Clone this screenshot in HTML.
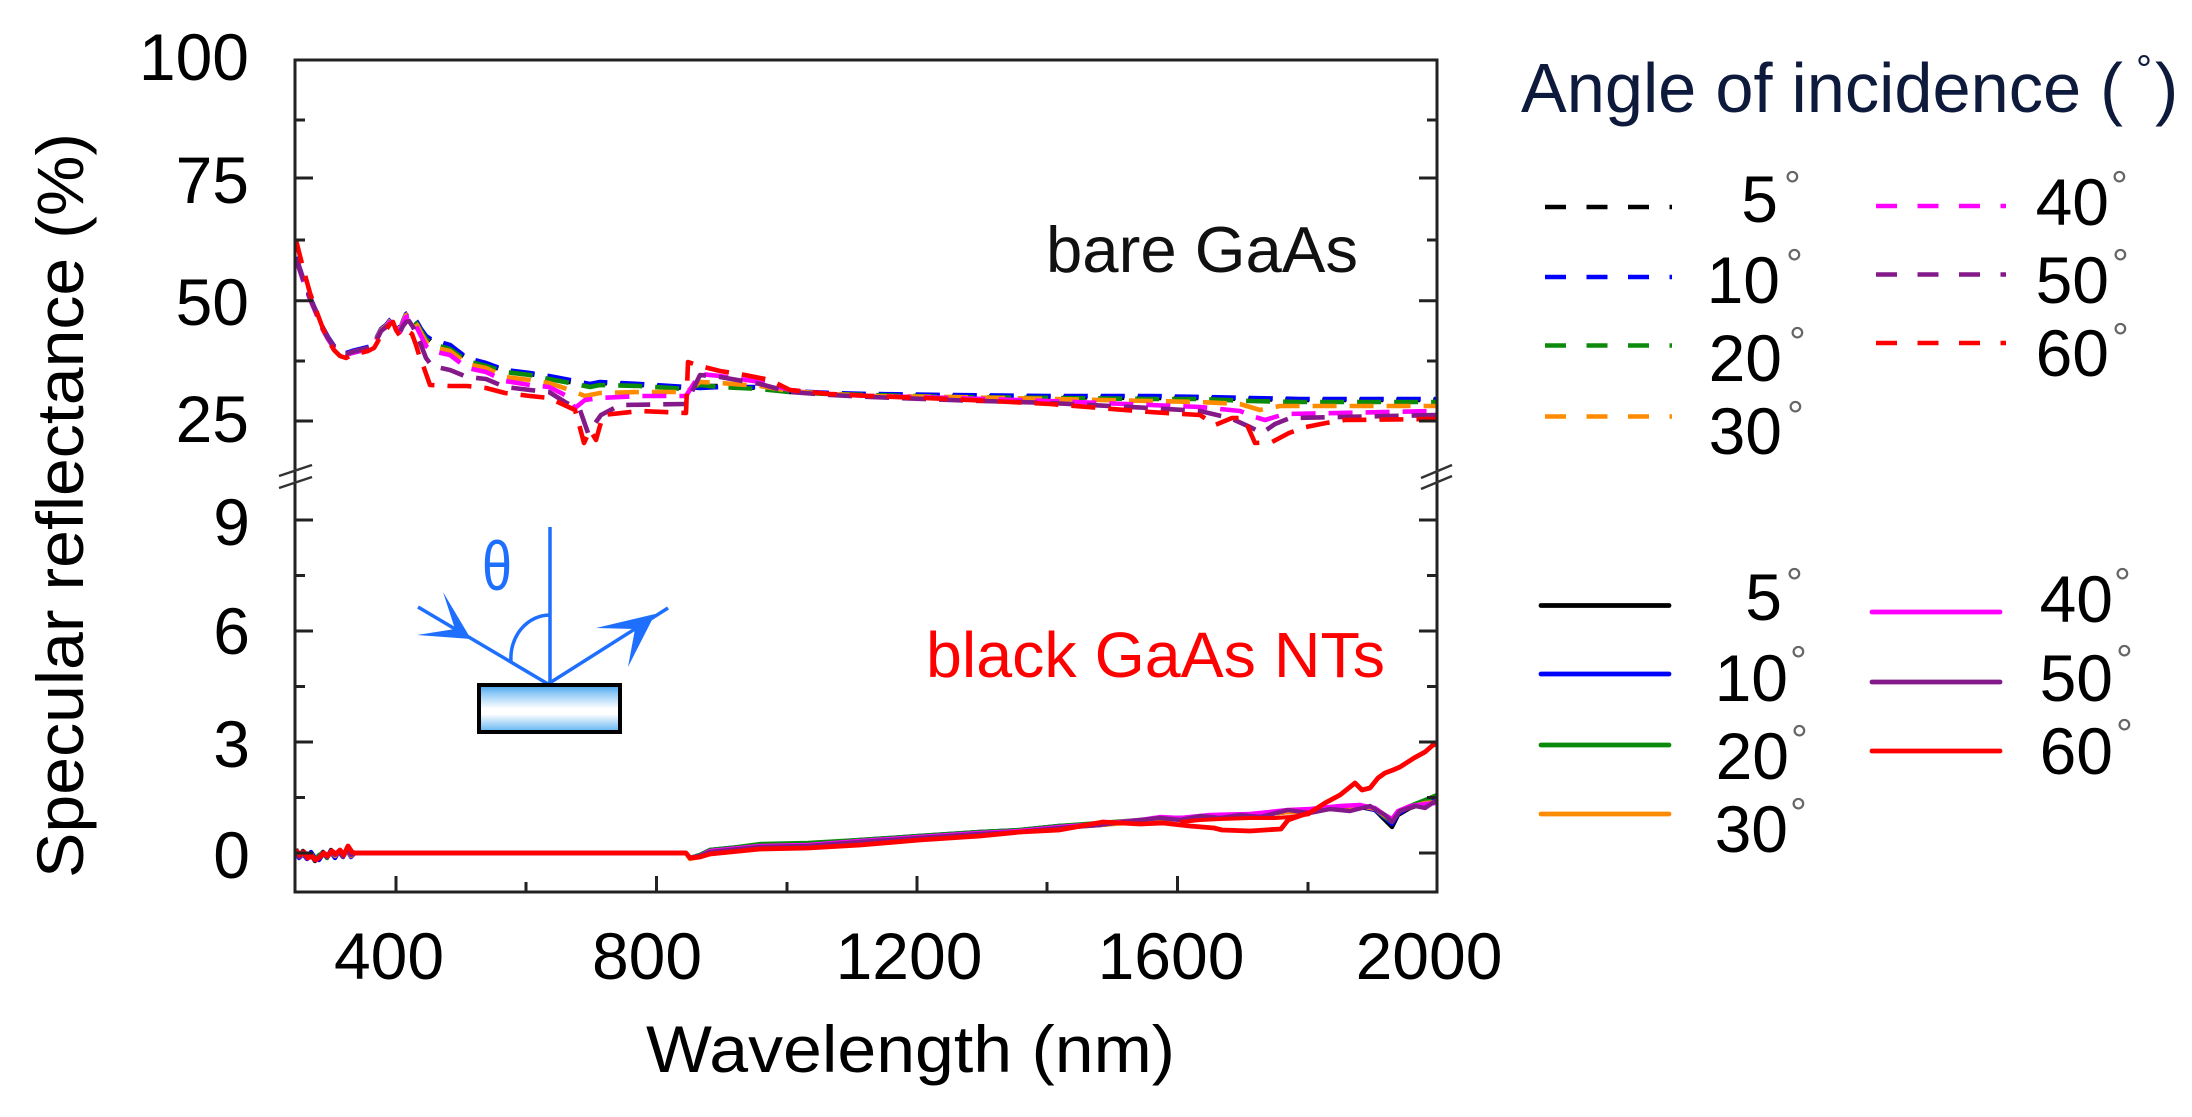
<!DOCTYPE html>
<html>
<head>
<meta charset="utf-8">
<style>
  html,body{margin:0;padding:0;background:#fff;}
  svg{display:block;}
  text{font-family:"Liberation Sans", Arial, sans-serif;}
</style>
</head>
<body>
<svg width="2192" height="1117" viewBox="0 0 2192 1117" xmlns="http://www.w3.org/2000/svg">
  <defs>
    <clipPath id="plot"><rect x="296" y="61" width="1140" height="830"/></clipPath>
    <linearGradient id="sub" x1="0" y1="0" x2="0" y2="1">
      <stop offset="0" stop-color="#3f9fec"/>
      <stop offset="0.18" stop-color="#8fcaf6"/>
      <stop offset="0.5" stop-color="#ffffff"/>
      <stop offset="0.62" stop-color="#ffffff"/>
      <stop offset="1" stop-color="#5cb2f0"/>
    </linearGradient>
  </defs>
  <rect width="2192" height="1117" fill="#fff"/>

  <!-- ===== data: upper panel (dashed) ===== -->
  <g clip-path="url(#plot)" fill="none" stroke-width="4.6" stroke-dasharray="24 13" stroke-linejoin="round">
    <polyline stroke="#000000" points="296,258 300,270 305,285 310,298 316,312 322,327 328,338 334,347 340,352 346,354 352,352 360,350 368,348 374,346 377,338 381,330 386,326 390,321 393,318 396,326 400,331 403,322 406,315 409,313 413,318 417,323 421,330 426,337 432,342 450,347 467,359 486,364 505,371 530,374 549,377 570,382 590,386 600,383 640,385 686,388 700,386 720,386 760,388 790,392 830,394 870,395 950,396 1050,397 1150,398 1200,398 1250,399 1300,400 1437,400"/>
    <polyline stroke="#0000ff" points="296,257 300,269 305,284 310,297 316,311 322,326 328,337 334,346 340,351 346,353 352,351 360,349 368,347 374,345 377,337 381,329 386,325 390,320 393,317 396,325 400,330 403,321 406,314 409,312 413,317 417,322 421,329 426,336 432,340 450,345 467,358 486,363 505,370 530,373 549,376 570,380 590,384 600,382 640,384 686,387 700,388 720,387 760,387 790,391 830,393 870,394 950,395 1050,396 1150,396 1200,397 1250,398 1300,399 1437,399"/>
    <polyline stroke="#0b8a0b" points="296,259 300,271 305,286 310,299 316,313 322,328 328,339 334,348 340,353 346,355 352,353 360,351 368,349 374,347 377,339 381,331 386,327 390,322 393,319 396,327 400,332 403,323 406,316 409,313 413,319 417,324 421,331 426,339 432,344 450,349 467,361 486,366 505,372 530,375 549,379 570,383 590,387 600,385 640,386 686,389 700,385 720,387 760,389 790,392 830,394 870,395 950,397 1050,398 1150,399 1200,399 1250,401 1300,402 1437,402"/>
    <polyline stroke="#ff8c00" points="296,258 300,270 305,285 310,298 316,312 322,327 328,338 334,347 340,352 346,354 352,352 360,350 368,348 374,346 377,338 381,330 386,326 390,321 393,318 396,326 400,331 403,322 406,315 409,314 413,319 417,325 421,333 426,342 432,347 450,351 467,364 486,368 505,377 530,380 549,383 570,390 585,396 600,393 640,392 686,392 700,382 720,383 760,386 790,391 830,394 870,396 950,397 1050,399 1150,401 1200,402 1240,404 1260,410 1280,406 1437,406"/>
    <polyline stroke="#ff00ff" points="296,259 300,271 305,286 310,299 316,313 322,328 328,339 334,348 340,353 346,355 352,353 360,351 368,349 374,347 377,339 381,331 386,327 390,322 393,319 396,327 400,332 403,323 406,317 409,316 413,321 417,328 421,336 426,346 432,351 450,355 467,368 486,372 505,381 530,385 549,387 565,395 575,408 585,400 600,398 640,396 686,396 700,374 720,376 760,382 790,390 830,394 870,396 950,398 1050,401 1150,405 1200,407 1240,411 1255,417 1265,420 1285,414 1437,411"/>
    <polyline stroke="#84198a" points="296,258 300,270 305,285 310,298 316,312 322,327 328,338 334,347 340,352 346,354 352,352 360,350 368,348 374,346 377,339 381,331 386,327 390,324 393,322 396,328 400,332 403,326 406,322 409,321 413,327 417,335 421,345 426,358 432,366 450,370 467,377 486,379 505,387 530,390 549,392 565,402 580,410 588,433 601,415 620,405 686,404 700,375 720,377 760,384 790,392 830,395 870,397 950,400 1050,403 1150,408 1200,411 1230,418 1250,427 1262,433 1275,424 1290,418 1437,415"/>
    <polyline stroke="#ff0000" points="296,240 300,256 305,275 310,293 316,310 322,326 328,340 334,350 340,356 346,358 352,355 360,353 368,351 374,348 377,343 381,335 386,330 390,324 393,322 396,330 400,336 404,334 408,331 412,334 416,345 420,358 424,368 430,385 450,386 467,386 486,388 505,393 530,396 549,398 560,403 575,410 580,428 584,443 590,430 596,440 603,415 640,411 686,413 688,362 700,366 720,371 745,375 770,380 790,390 830,394 870,396 950,399 1050,404 1150,412 1200,415 1215,425 1232,418 1244,418 1255,443 1272,442 1289,433 1306,427 1326,423 1345,420 1437,419"/>
  </g>

  <!-- ===== data: lower panel (solid) ===== -->
  <g clip-path="url(#plot)" fill="none" stroke-width="4.4" stroke-linejoin="round">
    <polyline stroke="#000000" points="296,849 299,856 303,851 307,857 311,855 315,861 319,856 323,852 327,857 331,850 335,855 339,852 343,857 347,848 351,855 355,853 686,853 690,858 700,856 710,851 730,849 760,846 808,845 860,841 919,837 980,833 1020,831 1059,827 1100,825 1140,821 1177,819 1210,818 1250,816 1288,812 1310,811 1340,808 1360,807 1375,810 1385,820 1392,827 1398,815 1410,808 1425,803 1437,799"/>
    <polyline stroke="#0000ff" points="296,852 299,858 303,854 307,859 311,852 315,858 319,860 323,854 327,855 331,852 335,858 339,851 343,855 347,850 351,857 355,853 686,853 690,858 700,855 710,850 730,848 760,845 808,844 860,840 919,836 980,832 1020,830 1059,826 1100,824 1140,821 1177,818 1210,817 1250,815 1288,811 1310,810 1340,807 1360,806 1375,810 1385,818 1392,824 1398,814 1410,807 1425,802 1437,798"/>
    <polyline stroke="#0b8a0b" points="296,850 299,854 303,852 307,856 311,857 315,859 319,855 323,853 327,858 331,851 335,853 339,853 343,856 347,849 351,854 355,853 686,853 690,858 700,855 710,850 730,848 760,844 808,843 860,840 919,836 980,832 1020,830 1059,826 1100,823 1140,820 1177,818 1210,817 1250,815 1288,811 1310,810 1340,807 1360,805 1375,809 1385,817 1392,822 1398,812 1410,806 1425,800 1437,795"/>
    <polyline stroke="#ff8c00" points="296,851 299,857 303,853 307,858 311,854 315,860 319,857 323,853 327,856 331,851 335,856 339,852 343,856 347,849 351,856 355,853 686,853 690,859 700,857 710,852 730,850 760,847 808,846 860,842 919,838 980,834 1020,831 1059,828 1100,825 1140,822 1177,819 1210,818 1250,816 1288,812 1310,811 1340,808 1360,806 1375,809 1385,816 1392,821 1398,812 1410,807 1425,803 1437,802"/>
    <polyline stroke="#ff00ff" points="296,850 299,855 303,852 307,858 311,856 315,860 319,857 323,854 327,856 331,851 335,854 339,853 343,856 347,849 351,855 355,853 686,853 690,858 700,856 710,851 730,849 760,846 808,845 860,841 919,837 980,833 1020,831 1059,827 1100,824 1140,820 1160,817 1180,818 1210,815 1250,814 1288,810 1310,809 1340,806 1360,805 1375,808 1385,815 1392,819 1398,811 1410,806 1425,804 1437,803"/>
    <polyline stroke="#84198a" points="296,851 299,857 303,852 307,858 311,855 315,860 319,857 323,853 327,857 331,851 335,855 339,852 343,857 347,848 351,855 355,853 686,853 690,858 700,856 710,852 730,850 760,847 808,846 860,842 919,838 980,834 1020,832 1059,828 1100,825 1140,820 1160,818 1180,820 1200,816 1220,818 1240,815 1260,817 1288,810 1310,813 1330,809 1350,811 1370,806 1385,815 1392,822 1400,811 1415,806 1425,808 1437,800"/>
    <polyline stroke="#ff0000" stroke-width="4.8" points="296,850 300,855 304,852 308,858 312,856 316,860 320,857 324,853 328,856 332,851 336,854 340,850 344,855 348,846 352,852 355,853 686,853 690,858 700,857 710,854 730,852 760,849 808,848 860,845 919,840 980,836 1020,832 1059,830 1103,822 1140,824 1163,823 1190,826 1214,828 1222,830 1250,831 1281,829 1288,820 1311,812 1325,803 1340,795 1350,787 1355,783 1362,790 1370,788 1378,778 1385,773 1393,770 1400,767 1414,758 1425,752 1433,745 1437,744"/>
    <polyline stroke="#ff0000" stroke-width="4" points="1180,822 1200,820 1220,819 1250,818 1275,818 1290,817 1310,814"/>
  </g>

  <!-- ===== axes frame ===== -->
  <g stroke="#222" stroke-width="3" fill="none">
    <rect x="295" y="60" width="1142" height="832"/>
    <path d="M295 178H313 M295 300.7H313 M295 421H313 M295 520H313 M295 631H313 M295 742H313 M295 853H313"/>
    <path d="M295 120H305 M295 240H305 M295 361H305 M295 575.5H305 M295 686.5H305 M295 797.5H305"/>
    <path d="M1437 178H1419 M1437 300.7H1419 M1437 421H1419 M1437 520H1419 M1437 631H1419 M1437 742H1419 M1437 853H1419"/>
    <path d="M1437 120H1427 M1437 240H1427 M1437 361H1427 M1437 575.5H1427 M1437 686.5H1427 M1437 797.5H1427"/>
    <path d="M396 892V876 M656.5 892V876 M917 892V876 M1177.5 892V876"/>
    <path d="M526 892V882 M787 892V882 M1047 892V882 M1308 892V882"/>
  </g>
  <g stroke="#333" stroke-width="2.5">
    <line x1="279" y1="476" x2="312" y2="465"/>
    <line x1="279" y1="488" x2="312" y2="477"/>
    <line x1="1421" y1="478" x2="1452" y2="465"/>
    <line x1="1421" y1="489" x2="1452" y2="476"/>
  </g>

  <!-- ===== tick labels ===== -->
  <g font-size="66" fill="#000" text-anchor="end">
    <text x="249" y="80">100</text>
    <text x="249" y="203">75</text>
    <text x="249" y="325">50</text>
    <text x="249" y="442">25</text>
    <text x="250" y="545">9</text>
    <text x="250" y="654">6</text>
    <text x="250" y="767">3</text>
    <text x="250" y="878">0</text>
  </g>
  <g font-size="66" fill="#000" text-anchor="middle">
    <text x="389" y="979">400</text>
    <text x="647" y="979">800</text>
    <text x="909" y="979">1200</text>
    <text x="1171" y="979">1600</text>
    <text x="1429" y="979">2000</text>
  </g>

  <text font-size="66" fill="#000" text-anchor="middle" transform="translate(83,505.5) rotate(-90)" textLength="745" lengthAdjust="spacingAndGlyphs">Specular reflectance (%)</text>
  <text x="646" y="1072" font-size="66" fill="#000" textLength="529" lengthAdjust="spacingAndGlyphs">Wavelength (nm)</text>

  <text x="1046" y="272" font-size="65" fill="#111" textLength="312" lengthAdjust="spacingAndGlyphs">bare GaAs</text>
  <text x="926" y="677" font-size="64" fill="#ff0000" textLength="459" lengthAdjust="spacingAndGlyphs">black GaAs NTs</text>

  <!-- ===== inset diagram ===== -->
  <g stroke="#1f6fff" stroke-width="3.5" fill="none">
    <line x1="550" y1="527" x2="550" y2="684"/>
    <line x1="418" y1="607" x2="548" y2="684"/>
    <line x1="548" y1="684" x2="668" y2="608"/>
    <path d="M511 661 A 39 43 0 0 1 550 615"/>
  </g>
  <g fill="#1f6fff">
    <polygon points="471,639 443,592 455,629 417,635"/>
    <polygon points="655,614 596,628 635,629 628,667"/>
  </g>
  <text x="482" y="590" font-size="70" fill="#1f6fff" textLength="30" lengthAdjust="spacingAndGlyphs">θ</text>
  <rect x="479" y="685" width="141" height="47" fill="url(#sub)" stroke="#000" stroke-width="4"/>

  <!-- ===== legend ===== -->
  <text x="1521" y="112" font-size="70" fill="#0e1a3c" textLength="602" lengthAdjust="spacingAndGlyphs">Angle of incidence (</text>
  <text x="2136" y="83" font-size="40" fill="#0e1a3c">°</text>
  <text x="2155" y="112" font-size="70" fill="#0e1a3c">)</text>

  <g stroke-width="4.5" stroke-dasharray="21 20.5" fill="none">
    <line x1="1545" y1="207" x2="1672" y2="207" stroke="#000000"/>
    <line x1="1545" y1="277" x2="1672" y2="277" stroke="#0000ff"/>
    <line x1="1545" y1="345.5" x2="1672" y2="345.5" stroke="#0b8a0b"/>
    <line x1="1545" y1="416.5" x2="1672" y2="416.5" stroke="#ff8c00"/>
    <line x1="1876" y1="206" x2="2006" y2="206" stroke="#ff00ff"/>
    <line x1="1876" y1="274.5" x2="2006" y2="274.5" stroke="#84198a"/>
    <line x1="1876" y1="343" x2="2006" y2="343" stroke="#ff0000"/>
  </g>
  <g stroke-width="4.8" stroke-linecap="round" fill="none">
    <line x1="1541" y1="605.5" x2="1669" y2="605.5" stroke="#000000"/>
    <line x1="1541" y1="674" x2="1669" y2="674" stroke="#0000ff"/>
    <line x1="1541" y1="745" x2="1669" y2="745" stroke="#0b8a0b"/>
    <line x1="1541" y1="814" x2="1669" y2="814" stroke="#ff8c00"/>
    <line x1="1872" y1="612" x2="2000" y2="612" stroke="#ff00ff"/>
    <line x1="1872" y1="682" x2="2000" y2="682" stroke="#84198a"/>
    <line x1="1872" y1="751" x2="2000" y2="751" stroke="#ff0000"/>
  </g>

  <g font-size="66" fill="#000" text-anchor="end">
    <text x="1778" y="222">5</text>
    <text x="1780" y="303">10</text>
    <text x="1782" y="381">20</text>
    <text x="1782" y="454">30</text>
    <text x="2109" y="225">40</text>
    <text x="2109" y="303">50</text>
    <text x="2109" y="376">60</text>
    <text x="1782" y="620">5</text>
    <text x="1788" y="701">10</text>
    <text x="1789" y="779">20</text>
    <text x="1788" y="852">30</text>
    <text x="2113" y="622">40</text>
    <text x="2113" y="701">50</text>
    <text x="2113" y="774">60</text>
  </g>
  <g font-size="42" fill="#666">
    <text x="1784" y="200">°</text>
    <text x="1786" y="278">°</text>
    <text x="1789" y="356">°</text>
    <text x="1787" y="430">°</text>
    <text x="2111" y="200">°</text>
    <text x="2112" y="278">°</text>
    <text x="2112" y="352">°</text>
    <text x="1786" y="597">°</text>
    <text x="1790" y="675">°</text>
    <text x="1791" y="754">°</text>
    <text x="1790" y="827">°</text>
    <text x="2114" y="597">°</text>
    <text x="2116" y="674">°</text>
    <text x="2116" y="748">°</text>
  </g>
</svg>
</body>
</html>
